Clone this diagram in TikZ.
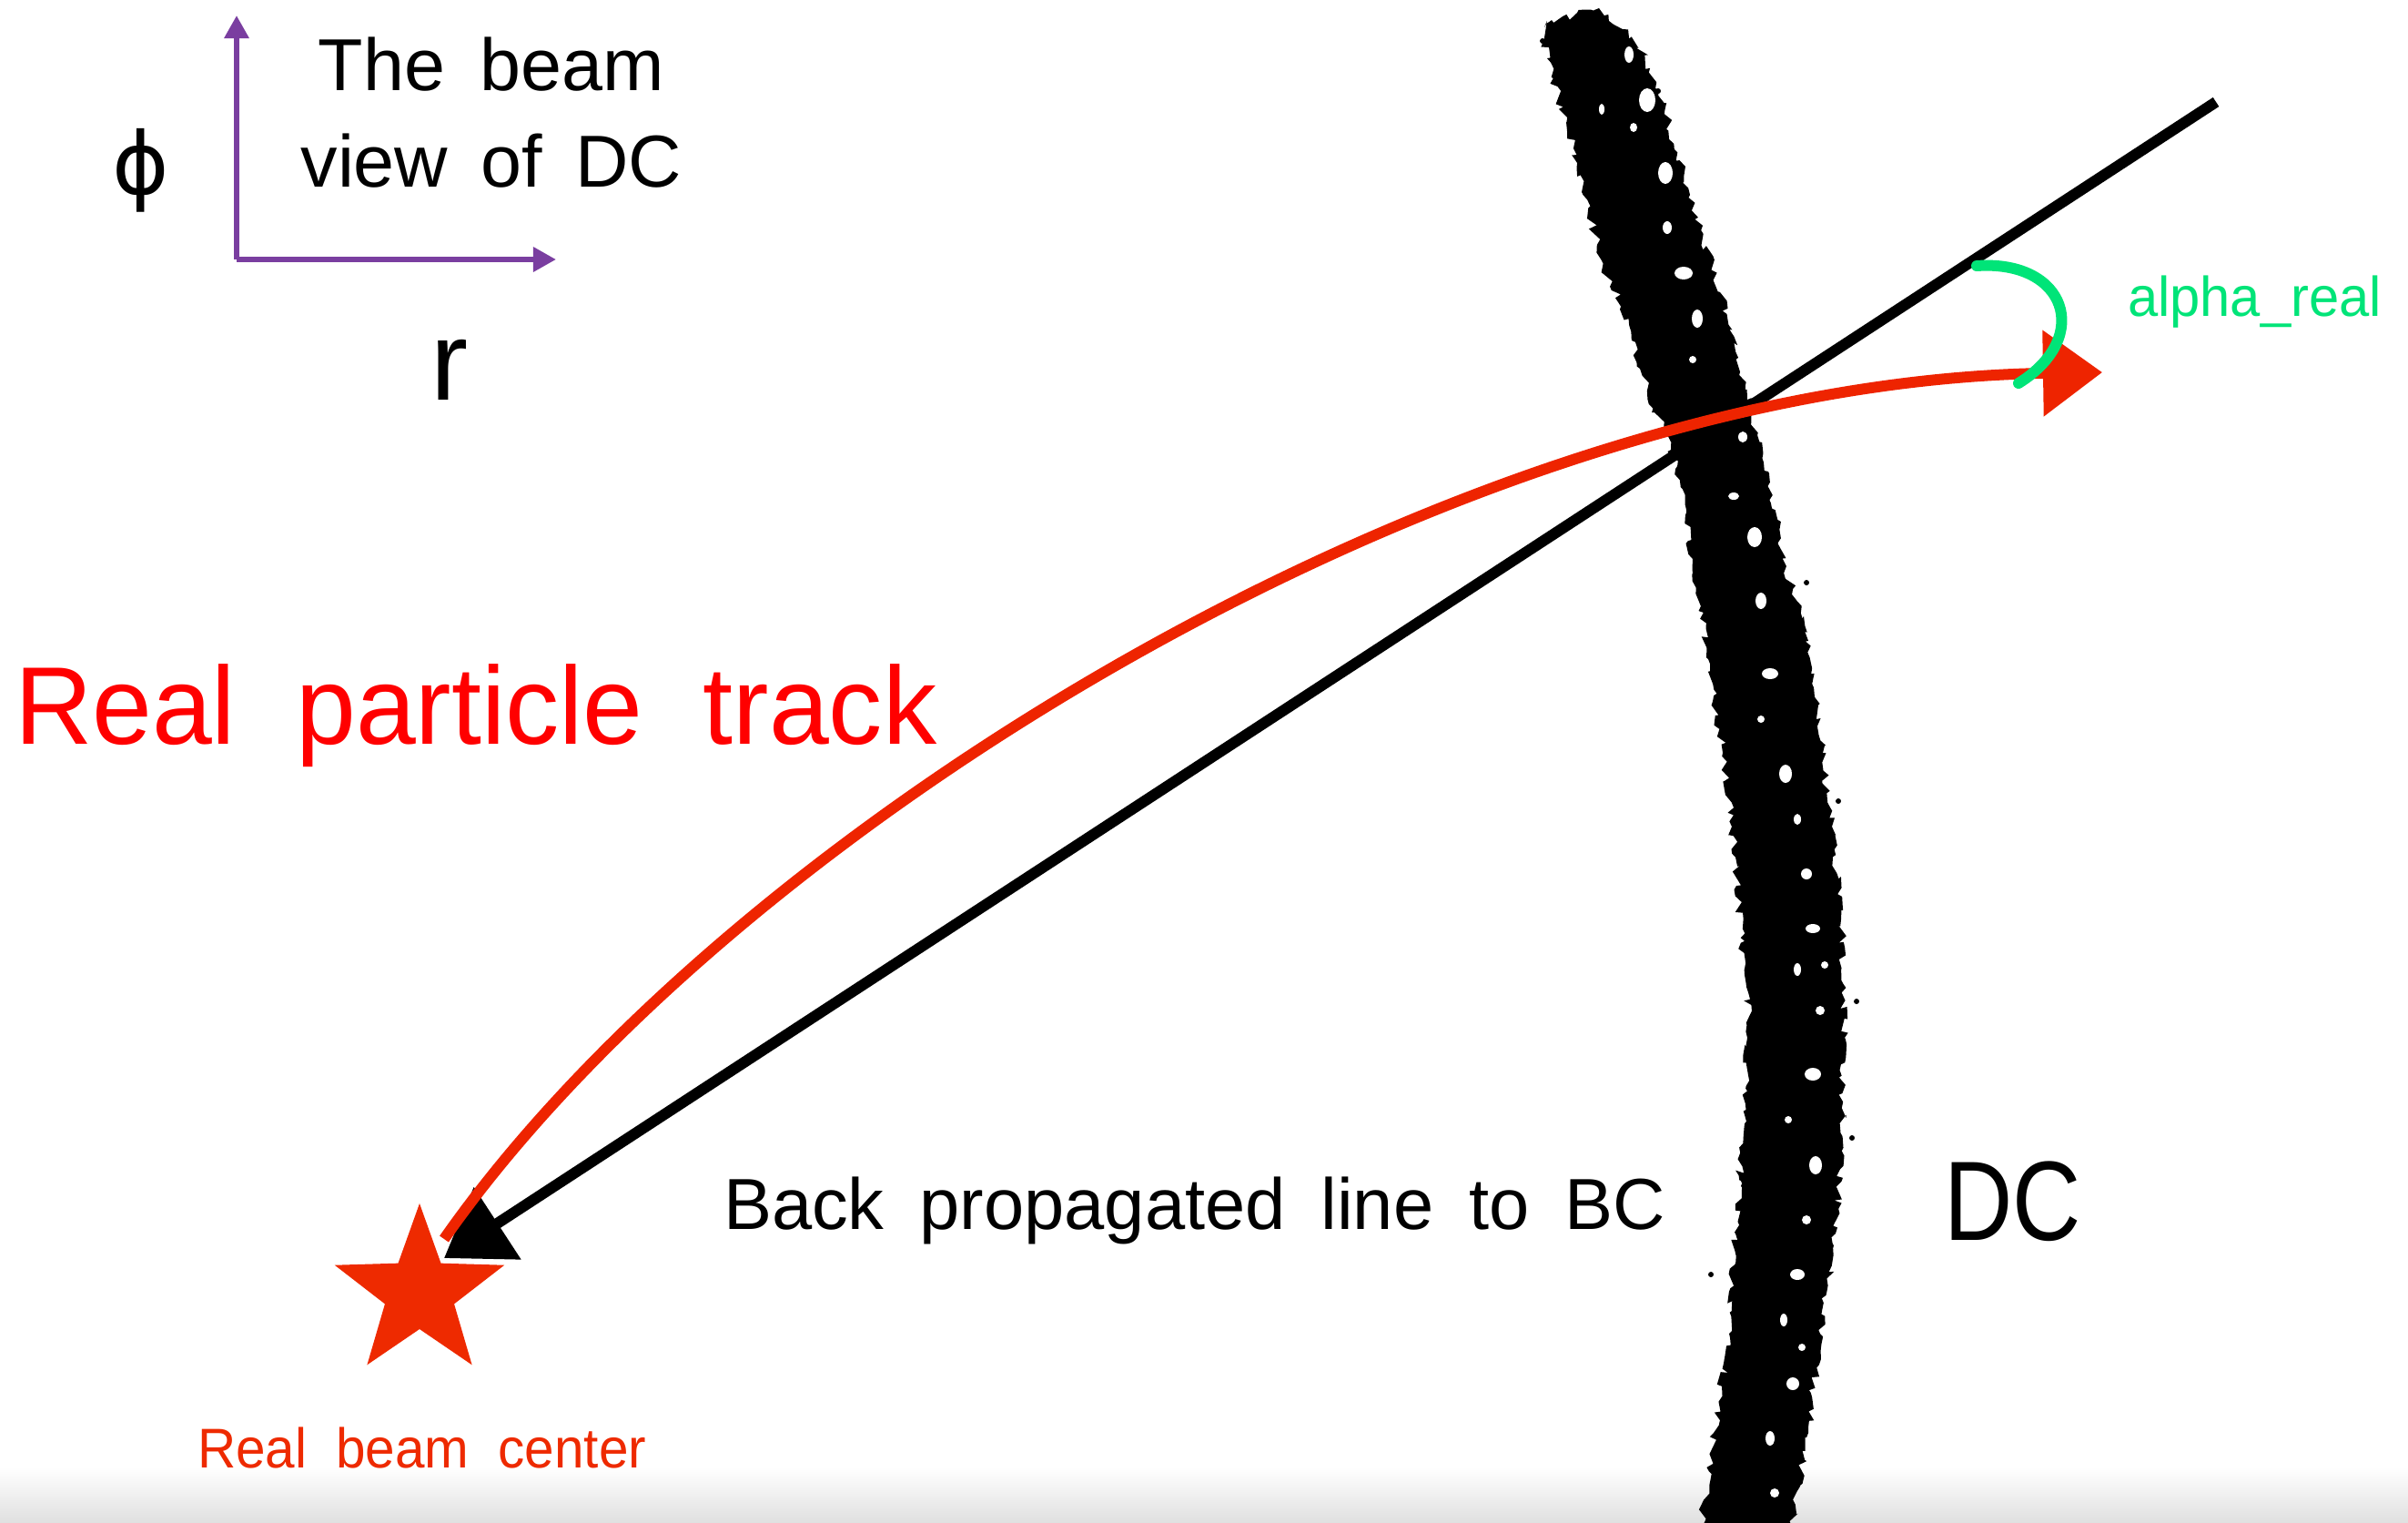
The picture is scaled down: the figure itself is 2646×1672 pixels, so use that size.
\documentclass[tikz,border=0pt]{standalone}
\usepackage{fontspec}
\usepackage{graphicx}
\setmainfont{Liberation Sans}
\newfontfamily\symfont{DejaVu Sans}
\usetikzlibrary{arrows.meta,decorations.pathmorphing}
\definecolor{axispurple}{RGB}{122,62,160}
\definecolor{trackred}{RGB}{238,36,0}
\definecolor{textred}{RGB}{255,0,0}
\definecolor{starred}{RGB}{238,42,0}
\definecolor{alphagreen}{RGB}{0,228,120}
\definecolor{footgray}{RGB}{224,224,224}
\newcommand\widesp[2]{\spaceskip=#1\relax #2}
\begin{document}
\begin{tikzpicture}[x=0.01cm,y=-0.01cm,
  lbl/.style={inner sep=0pt, outer sep=0pt},
  axisline/.style={draw=axispurple, line width=0.06cm, -{Triangle[length=0.25cm,width=0.26cm]}},
  backline/.style={draw=black, line width=0.12cm, -{Triangle[length=0.7cm,width=0.92cm]}},
  trackline/.style={draw=trackred, line width=0.12cm, -{Triangle[length=0.65cm,width=0.92cm]}},
  anglearc/.style={draw=alphagreen, line width=0.12cm, line cap=round},
  rough/.style={decorate, decoration={random steps, segment length=0.06cm, amplitude=0.05cm}},
  hole/.style={fill=white},
  speck/.style={fill=black}
]
\pgfmathsetseed{42}
\useasboundingbox (0,0) rectangle (2646,1672);
\fill[white] (0,0) rectangle (2646,1672);
\shade[top color=white, bottom color=footgray] (0,1612) rectangle (2646,1672);

% DC band
\fill[black, rough]
  plot[smooth] coordinates {(1697,30) (1700,64) (1733,179) (1760,286) (1790,357) (1810,429) (1843,512) (1860,614) (1877,724) (1893,827) (1903,908) (1917,1071) (1920,1140) (1907,1355) (1900,1465) (1883,1574) (1867,1690)}
  -- plot[smooth] coordinates {(1967,1690) (1987,1574) (2000,1465) (2017,1355) (2027,1140) (2023,1010) (2013,908) (2003,827) (1987,704) (1963,622) (1943,518) (1920,439) (1910,393) (1890,321) (1857,214) (1813,75) (1783,32) (1757,9)}
  -- (1733,14) -- cycle;
\foreach \hx/\hy/\rx/\ry in {1790/60/5/9, 1810/110/9/13, 1795/140/4/5, 1830/190/8/12, 1832/250/5/7, 1850/300/10/7, 1865/350/6/10, 1860/395/4/4, 1905/545/6/4, 1928/590/8/11, 1935/660/6/9, 1945/740/9/6, 1935/790/4/4, 1962/850/7/10, 1975/900/4/6, 1985/960/6/6, 1992/1020/8/5, 1975/1065/4/7, 2000/1110/5/5, 1992/1180/9/7, 1965/1230/4/4, 1995/1280/7/10, 1985/1340/5/5, 1975/1400/8/6, 1960/1450/4/7, 1970/1520/7/7, 1945/1580/5/8, 1950/1640/5/5, 1760/120/3/6, 1850/700/4/3, 1895/1000/5/3, 1910/1300/4/4, 1880/260/4/3, 1915/480/5/6, 2005/1060/4/4, 1980/1480/4/4}
  \fill[hole] (\hx,\hy) ellipse [x radius=\rx, y radius=\ry];
\foreach \sx/\sy in {1822/100, 1975/720, 2040/1100, 1845/470, 2035/1250, 1880/1400, 1695/45, 1985/640, 2020/880}
  \fill[speck] (\sx,\sy) circle [radius=3];

% axes
\coordinate (origin) at (260,285);
\coordinate (ytip) at (260,17);
\coordinate (xtip) at (611,285);
\draw[axisline] (origin) -- (ytip);
\draw[axisline] (origin) -- (xtip);
\node[lbl, anchor=center, font=\symfont\fontsize{27}{30}\selectfont] (phi) at (155,187) {ϕ};
\node[lbl, anchor=base, font=\fontsize{35}{40}\selectfont] (rlab) at (494,439) {r};
\node[lbl, anchor=base, font=\fontsize{23}{28}\selectfont] (title1) at (540,99) {\widesp{0.48em}{The beam}};
\node[lbl, anchor=base, font=\fontsize{23}{28}\selectfont] (title2) at (540,205) {\widesp{0.45em}{view of DC}};

% star (real beam center)
\coordinate (bc) at (461,1420);
\fill[starred, shift={(461,1420)}] (-90:98) -- (-54:40) -- (-18:98) -- (18:40) -- (54:98) -- (90:40) -- (126:98) -- (162:40) -- (198:98) -- (234:40) -- cycle;

% back propagated line
\coordinate (lineend) at (2435,112);
\coordinate (blacktip) at (488,1382);
\draw[backline] (lineend) -- (blacktip);

% real particle track
\coordinate (trackstart) at (488,1361);
\coordinate (trackend) at (2310,409);
\draw[trackline] (trackstart) .. controls (800,915) and (1600,420) .. (trackend);

% alpha_real arc
\coordinate (gstart) at (2172,292);
\coordinate (gend) at (2218,421);
\draw[anglearc] (gstart) .. controls (2270,285) and (2300,370) .. (gend);

% labels
\node[lbl, anchor=base west, text=textred, font=\fontsize{34.5}{40}\selectfont] (rpt) at (16,817) {\scalebox{0.975}[1]{\widesp{0.56em}{Real particle track}}};
\node[lbl, anchor=base west, font=\fontsize{22.6}{27}\selectfont] (bpl) at (795,1350) {\widesp{0.49em}{Back propagated line to BC}};
\node[lbl, anchor=base west, font=\fontsize{35.3}{40}\selectfont] (dc) at (2136,1362) {\scalebox{0.84}[1]{DC}};
\node[lbl, anchor=base west, text=starred, font=\fontsize{17.5}{21}\selectfont] (rbc) at (217,1612) {\scalebox{0.95}[1]{\widesp{0.55em}{Real beam center}}};
\node[lbl, anchor=base west, text=alphagreen, font=\fontsize{17.5}{21}\selectfont] (alpha) at (2338,347) {\scalebox{0.97}[1]{alpha\_real}};
\end{tikzpicture}
\end{document}
